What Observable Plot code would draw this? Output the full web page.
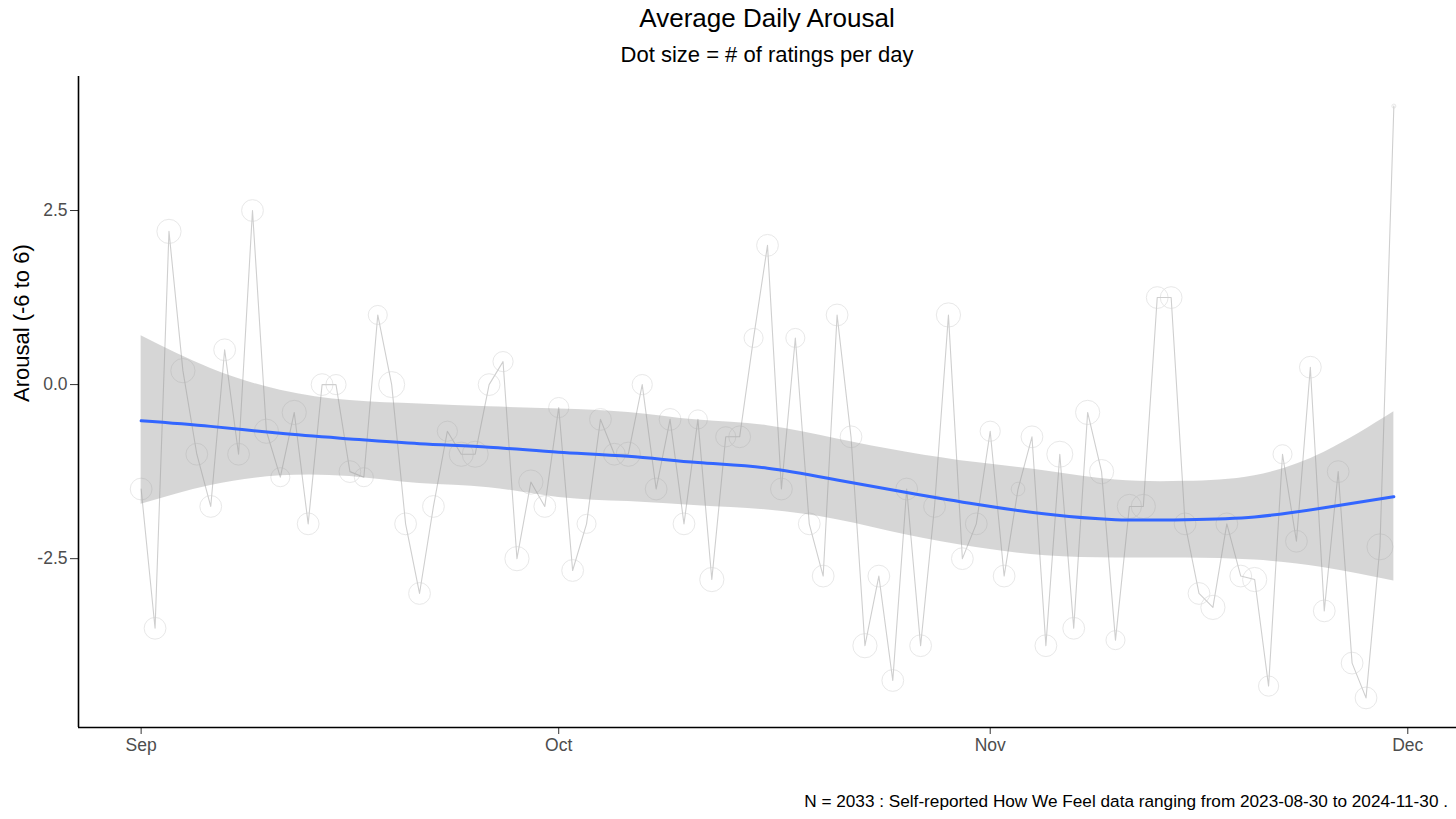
<!DOCTYPE html>
<html>
<head>
<meta charset="utf-8">
<script src="https://cdn.jsdelivr.net/npm/d3@7"></script>
<script src="https://cdn.jsdelivr.net/npm/@observablehq/plot@0.6"></script>
<style>
  html, body { margin: 0; padding: 0; background: #fff; }
  body { width: 1456px; height: 819px; position: relative; overflow: hidden;
         font-family: "Liberation Sans", Arial, sans-serif; color: #000; }
  .title { position: absolute; left: 78px; width: 1378px; text-align: center; top: 5px;
           font-size: 26px; line-height: 26px; }
  .subtitle { position: absolute; left: 78px; width: 1378px; text-align: center; top: 43.5px;
              font-size: 22px; line-height: 22px; }
  #chart { position: absolute; left: 0; top: 70px; }
  .caption { position: absolute; right: 8px; top: 792.5px; font-size: 17.2px; line-height: 17.2px; }
</style>
</head>
<body>
<div class="title">Average Daily Arousal</div>
<div class="subtitle">Dot size = # of ratings per day</div>
<div id="chart"></div>
<div class="caption">N = 2033 : Self-reported How We Feel data ranging from 2023-08-30 to 2024-11-30 .</div>
<script>
// Daily average arousal, Sep 1 .. Nov 30 (one value per day)
const arousal = [
  -1.5, -3.5, 2.2, 0.2, -1.0, -1.75, 0.5, -1.0, 2.5, -0.67,
  -1.33, -0.4, -2.0, 0.0, 0.0, -1.25, -1.33, 1.0, 0.0, -2.0,
  -3.0, -1.75, -0.67, -1.0, -1.0, 0.0, 0.33, -2.5, -1.4, -1.75,
  -0.33, -2.67, -2.0, -0.5, -1.0, -1.0, 0.0, -1.5, -0.5, -2.0,
  -0.5, -2.8, -0.75, -0.75, 0.67, 2.0, -1.5, 0.67, -2.0, -2.75,
  1.0, -0.75, -3.75, -2.75, -4.25, -1.5, -3.75, -1.75, 1.0, -2.5,
  -2.0, -0.67, -2.75, -1.5, -0.75, -3.75, -1.0, -3.5, -0.4, -1.25,
  -3.67, -1.75, -1.75, 1.25, 1.25, -2.0, -3.0, -3.2, -2.0, -2.75,
  -2.8, -4.33, -1.0, -2.25, 0.25, -3.25, -1.25, -4.0, -4.5, -2.33,
  4.0
];
// Number of ratings per day (dot size)
const ratings = [
  22, 22, 27, 27, 22, 22, 22, 22, 22, 27,
  17, 27, 22, 22, 19, 22, 17, 17, 31, 22,
  22, 22, 19, 27, 31, 22, 19, 27, 27, 22,
  19, 22, 17, 22, 22, 27, 19, 22, 22, 22,
  17, 27, 19, 22, 17, 22, 22, 17, 22, 22,
  22, 22, 27, 22, 22, 22, 22, 22, 27, 22,
  22, 19, 22, 9, 22, 22, 31, 22, 27, 27,
  17, 27, 27, 22, 22, 22, 22, 27, 22, 22,
  27, 19, 17, 22, 22, 22, 22, 22, 22, 31,
  1
];
// Loess smooth (day offset from Sep 1)
const smoothDay = [0, 5, 10, 15, 20, 25, 30, 35, 40, 45, 50, 55, 60, 65, 70, 75, 80, 85, 90];
const smoothFit = [-0.52, -0.60, -0.70, -0.78, -0.85, -0.90, -0.97, -1.03, -1.12, -1.20, -1.37, -1.55, -1.72, -1.86, -1.94, -1.94, -1.90, -1.77, -1.61];
const smoothHi  = [0.70, 0.23, -0.08, -0.23, -0.28, -0.32, -0.35, -0.40, -0.51, -0.59, -0.78, -0.97, -1.12, -1.24, -1.37, -1.39, -1.31, -0.97, -0.39];
const smoothLo  = [-1.72, -1.45, -1.31, -1.32, -1.42, -1.48, -1.62, -1.68, -1.74, -1.80, -1.94, -2.16, -2.34, -2.46, -2.49, -2.49, -2.52, -2.63, -2.82];
// Axis ticks
const xTickDates = ["2023-09-01", "2023-10-01", "2023-11-01", "2023-12-01"];
const yTicks = [-2.5, 0, 2.5];

const start = new Date(Date.UTC(2023, 8, 1));
const data = arousal.map((v, i) => ({date: d3.utcDay.offset(start, i), value: v, n: ratings[i]}));
const smooth = smoothDay.map((d, i) => ({date: d3.utcDay.offset(start, d), fit: smoothFit[i], hi: smoothHi[i], lo: smoothLo[i]}));
const xTicks = xTickDates.map(s => new Date(s + "T00:00:00Z"));

// ggplot-style 5% expansion of the data range
const xMin = data[0].date, xMax = data[data.length - 1].date;
const xPad = (xMax - xMin) * 0.05;
const xDomain = [new Date(+xMin - xPad), new Date(+xMax + xPad)];
const yMin = d3.min(arousal), yMax = d3.max(arousal);
const yPad = (yMax - yMin) * 0.05;
const yDomain = [yMin - yPad, yMax + yPad];

const chart = Plot.plot({
  width: 1456,
  height: 697,
  marginTop: 6,
  marginBottom: 40,
  marginLeft: 78,
  marginRight: 0,
  style: {fontFamily: "'Liberation Sans', Arial, sans-serif", background: "white", overflow: "visible"},
  x: {type: "utc", domain: xDomain},
  y: {domain: yDomain},
  r: {type: "pow", exponent: 0.5, domain: [1, 31], range: [2, 13]},
  marks: [
    Plot.dot(data, {x: "date", y: "value", r: "n", fill: "none", stroke: "#e8e8e8", strokeWidth: 1}),
    Plot.line(data, {x: "date", y: "value", stroke: "#cfcfcf", strokeWidth: 1.1}),
    Plot.areaY(smooth, {x: "date", y1: "lo", y2: "hi", fill: "#999999", fillOpacity: 0.4, curve: "natural"}),
    Plot.line(smooth, {x: "date", y: "fit", stroke: "#3366FF", strokeWidth: 3, curve: "natural"}),
    Plot.axisX({ticks: xTicks, tickFormat: d3.utcFormat("%b"), tickSize: 7, tickPadding: 4,
                fontSize: 17.5, fill: "#4d4d4d", stroke: "#333333", label: null}),
    Plot.axisY({ticks: yTicks, tickFormat: d => d.toFixed(1), tickSize: 8, tickPadding: 3,
                fontSize: 17.5, fill: "#4d4d4d", stroke: "#333333", label: null}),
    Plot.ruleY([yDomain[0]], {stroke: "black", strokeWidth: 1.6}),
    Plot.ruleX([xDomain[0]], {stroke: "black", strokeWidth: 1.6}),
    Plot.text(["Arousal (-6 to 6)"], {text: d => d, frameAnchor: "left", dx: -57, rotate: -90,
                                       fontSize: 22, fill: "black"})
  ]
});
document.getElementById("chart").appendChild(chart);
</script>
</body>
</html>
